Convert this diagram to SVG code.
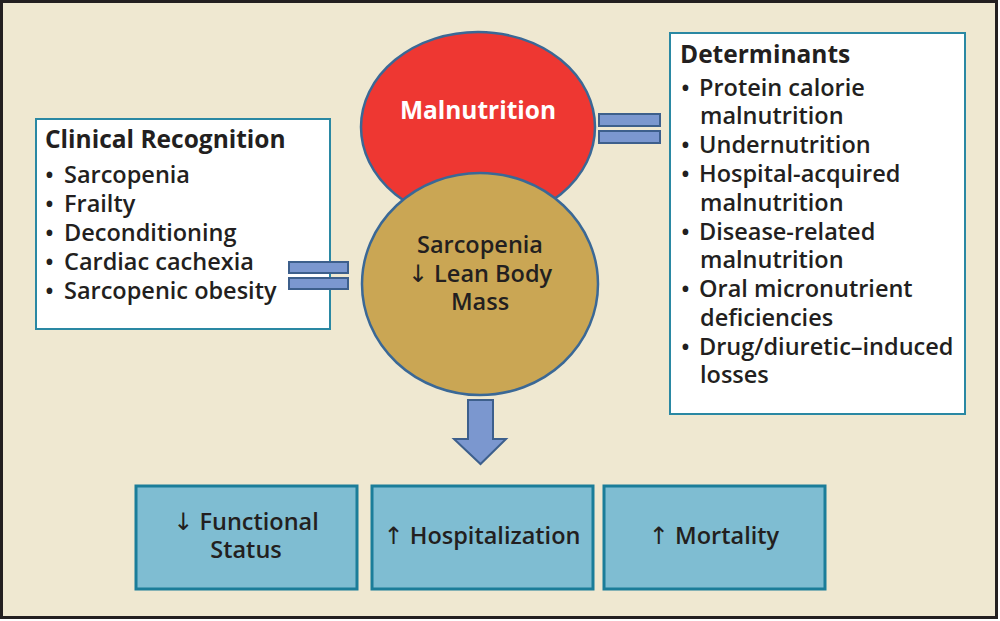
<svg xmlns="http://www.w3.org/2000/svg" width="1000" height="621" viewBox="0 0 1000 621">
<style>
.t{font-family:"Open Sans","Liberation Sans",sans-serif;fill:#231f20;font-weight:600;font-size:23.5px}
.h{font-weight:700;font-size:24.5px}
.ar{font-family:"DejaVu Sans",sans-serif;font-weight:400;font-size:24px}
.box{fill:#ffffff;stroke:#2a88a3;stroke-width:2}
.out{fill:#7fbdd2;stroke:#1b7d99;stroke-width:3}
.eq{fill:#7b97cf;stroke:#3d5f8c;stroke-width:2}
</style>
<rect x="1.5" y="1.5" width="995" height="616" fill="#efe8d1" stroke="#231f20" stroke-width="3"/>
<g id="malnutrition">
<ellipse cx="478" cy="127" rx="117" ry="95" fill="#ee3732" stroke="#3a6896" stroke-width="2.5"/>
<text class="t h" x="478" y="119" text-anchor="middle" style="fill:#ffffff">Malnutrition</text>
</g>
<g id="sarcopenia">
<ellipse cx="480" cy="284" rx="118" ry="111" fill="#caa654" stroke="#3a6896" stroke-width="2.5"/>
<text class="t" x="480" y="253" text-anchor="middle">Sarcopenia</text>
<text class="t" x="480" y="282" text-anchor="middle"><tspan class="ar">↓</tspan> Lean Body</text>
<text class="t" x="480" y="310" text-anchor="middle">Mass</text>
</g>
<g id="clinical">
<rect class="box" x="36" y="119" width="294" height="210"/>
<text class="t h" x="45" y="148">Clinical Recognition</text>
<text class="t" x="45" y="183">•<tspan x="64">Sarcopenia</tspan></text>
<text class="t" x="45" y="212">•<tspan x="64">Frailty</tspan></text>
<text class="t" x="45" y="241">•<tspan x="64">Deconditioning</tspan></text>
<text class="t" x="45" y="270">•<tspan x="64">Cardiac cachexia</tspan></text>
<text class="t" x="45" y="299">•<tspan x="64">Sarcopenic obesity</tspan></text>
</g>
<g id="determinants">
<rect class="box" x="670" y="33" width="295" height="381"/>
<text class="t h" x="680" y="63">Determinants</text>
<text class="t" x="681" y="96">•<tspan x="699">Protein calorie</tspan></text>
<text class="t" x="700" y="124">malnutrition</text>
<text class="t" x="681" y="153">•<tspan x="699">Undernutrition</tspan></text>
<text class="t" x="681" y="182">•<tspan x="699">Hospital-acquired</tspan></text>
<text class="t" x="700" y="211">malnutrition</text>
<text class="t" x="681" y="240">•<tspan x="699">Disease-related</tspan></text>
<text class="t" x="700" y="268">malnutrition</text>
<text class="t" x="681" y="297">•<tspan x="699">Oral micronutrient</tspan></text>
<text class="t" x="700" y="326">deficiencies</text>
<text class="t" x="681" y="355">•<tspan x="699">Drug/diuretic–induced</tspan></text>
<text class="t" x="700" y="383">losses</text>
</g>
<g id="connectors">
<rect class="eq" x="599" y="114" width="61" height="12"/>
<rect class="eq" x="599" y="131" width="61" height="12"/>
<rect class="eq" x="289" y="262" width="59" height="11"/>
<rect class="eq" x="289" y="278" width="59" height="11"/>
<path d="M468 400 H493 V439 H506 L480.5 464 L454 439 H468 Z" fill="#7b97cf" stroke="#3d5f8c" stroke-width="2"/>
</g>
<g id="functional">
<rect class="out" x="136" y="486" width="221" height="103"/>
<text class="t" x="246" y="530" text-anchor="middle"><tspan class="ar">↓</tspan> Functional</text>
<text class="t" x="246" y="558" text-anchor="middle">Status</text>
</g>
<g id="hospitalization">
<rect class="out" x="372" y="486" width="221" height="103"/>
<text class="t" x="482" y="544" text-anchor="middle"><tspan class="ar">↑</tspan> Hospitalization</text>
</g>
<g id="mortality">
<rect class="out" x="604" y="486" width="221" height="103"/>
<text class="t" x="714" y="544" text-anchor="middle"><tspan class="ar">↑</tspan> Mortality</text>
</g>
</svg>
